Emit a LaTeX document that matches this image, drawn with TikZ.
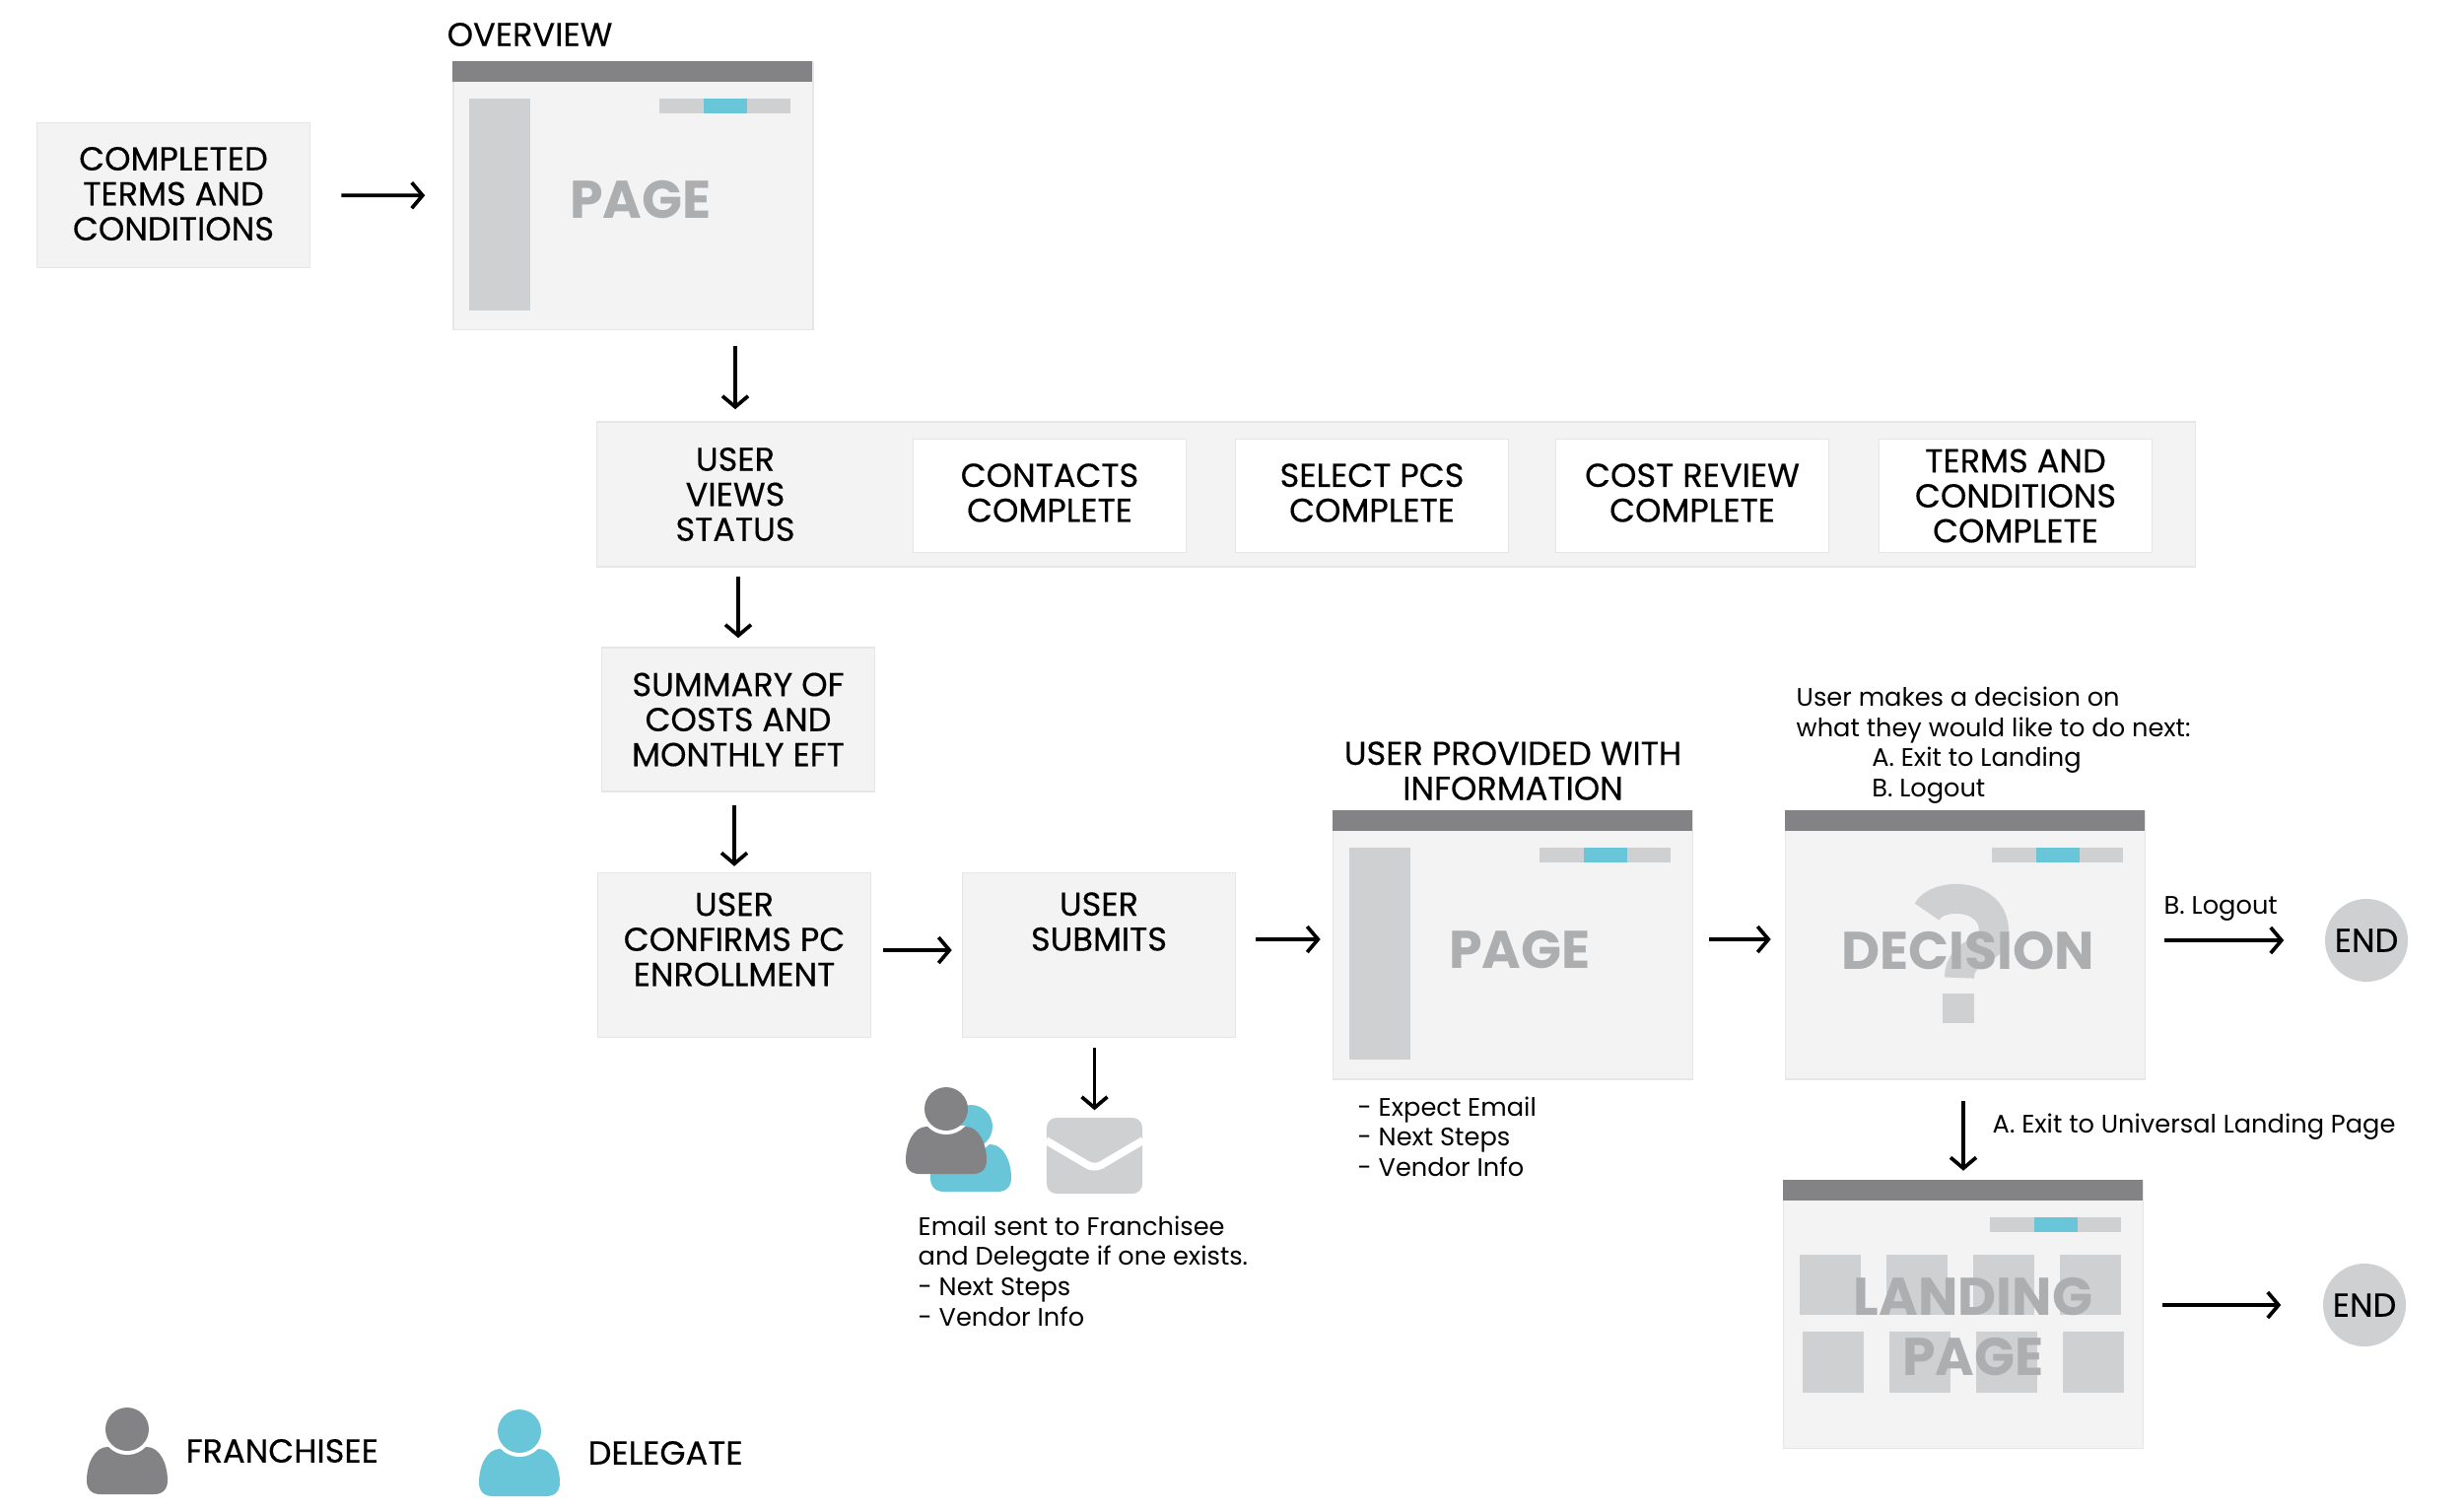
\documentclass[tikz,border=0pt]{standalone}
\usepackage{fontspec}
\setmainfont{Poppins}
\newfontfamily\capsfont[FakeBold=0.35]{Poppins}
\usetikzlibrary{arrows.meta}
\usetikzlibrary{calc}
\definecolor{barcol}{HTML}{838386}
\definecolor{boxcol}{HTML}{F3F3F4}
\definecolor{edgecol}{HTML}{E6E6E7}
\definecolor{blockcol}{HTML}{CFD0D2}
\definecolor{bluecol}{HTML}{68C6D8}
\definecolor{wordcol}{HTML}{ADAEB0}
\tikzset{
  stepbox/.style={fill=boxcol, draw=edgecol, line width=0.4pt, minimum width=2.77cm, inner sep=0pt, align=center, font=\capsfont\fontsize{9.55}{10.1}\selectfont},
  twolines/.style={text depth=1.8pt},
  pagebox/.style={fill=boxcol, draw=edgecol, line width=0.4pt, minimum width=3.65cm, minimum height=2.72cm, inner sep=0pt},
  endnode/.style={circle, fill=blockcol, minimum size=0.84cm, inner sep=0pt, font=\capsfont\fontsize{9.55}{10.1}\selectfont},
  flow/.style={line width=1.05pt, -{Straight Barb[length=0.11cm, width=0.26cm]}},
  caps/.style={inner sep=0pt, align=center, font=\capsfont\fontsize{9.55}{10.1}\selectfont},
  note/.style={inner sep=0pt, align=left, anchor=west, font=\fontsize{7.3}{8.7}\selectfont},
  bigword/.style={inner sep=0pt, align=center, text=wordcol, font=\fontsize{15.3}{17.6}\bfseries\selectfont}
}
% window with title bar and pager
\newcommand{\pagewin}[3]{
  \node[pagebox] (#1) at (#2, #3) {};
  \fill[barcol] (#1.north west) rectangle ++(365, 21);
  \fill[blockcol] ($(#1.north west)+(210, 38)$) rectangle ++(133, 15);
  \fill[bluecol] ($(#1.north west)+(255, 38)$) rectangle ++(44, 15);
}
\newcommand{\pageside}[1]{
  \fill[blockcol] ($(#1.north west)+(17, 38)$) rectangle ++(62, 215);
}
% person, given by the centre of the head
\newcommand{\person}[3]{
  \fill[#3] (#1-41, #2+52) .. controls (#1-41, #2+35) and (#1-33, #2+18) .. (#1-20, #2+18)
    -- (#1+20, #2+18) .. controls (#1+33, #2+18) and (#1+41, #2+35) .. (#1+41, #2+52)
    .. controls (#1+41, #2+61) and (#1+36, #2+66) .. (#1+27, #2+66)
    -- (#1-27, #2+66) .. controls (#1-36, #2+66) and (#1-41, #2+61) .. (#1-41, #2+52) -- cycle;
  \begin{scope}
    \clip (#1-41, #2+17) rectangle (#1+41, #2+40);
    \fill[white] (#1, #2) circle (26);
  \end{scope}
  \fill[#3] (#1, #2) circle (22);
}
\begin{document}
\begin{tikzpicture}[x=0.01cm, y=-0.01cm]
  \useasboundingbox (0, 0) rectangle (2500, 1532);

  %Top row
  \node[stepbox, minimum height=1.47cm, text depth=0.9pt] (terms) at (176, 198) {COMPLETED\\TERMS AND\\CONDITIONS};
  \node[caps, anchor=west] (overviewtitle) at (453, 35) {OVERVIEW};
  \pagewin{overview}{642.5}{198.5}
  \pageside{overview}
  \node[bigword] (overviewword) at (650, 203) {PAGE};

  %Status band
  \node[stepbox, minimum width=16.21cm, minimum height=1.47cm] (band) at (1416.5, 501.5) {};
  \node[caps, minimum height=1.47cm] (userviews) at (746, 501.5) {USER\\VIEWS\\STATUS};
  \node[stepbox, twolines, fill=white, minimum height=1.15cm] (contacts) at (1065, 503) {CONTACTS\\COMPLETE};
  \node[stepbox, twolines, fill=white, minimum height=1.15cm] (selectpcs) at (1392, 503) {SELECT PCS\\COMPLETE};
  \node[stepbox, twolines, fill=white, minimum height=1.15cm] (costreview) at (1717, 503) {COST REVIEW\\COMPLETE};
  \node[stepbox, fill=white, minimum height=1.15cm] (termsdone) at (2045, 503) {TERMS AND\\CONDITIONS\\COMPLETE};

  %Left column
  \node[stepbox, minimum height=1.46cm] (summary) at (749, 730) {SUMMARY OF\\COSTS AND\\MONTHLY EFT};
  \node[stepbox, minimum height=1.67cm] (confirms) at (745, 969) {};
  \node[caps] (confirmstext) at (745, 953) {USER\\CONFIRMS PC\\ENROLLMENT};
  \node[stepbox, minimum height=1.67cm] (submits) at (1115, 969) {};
  \node[caps] (submitstext) at (1115, 935) {USER\\SUBMITS};

  %Email
  \node[fill=blockcol, rounded corners=0.1cm, minimum width=0.97cm, minimum height=0.77cm, inner sep=0pt] (envelope) at (1110.5, 1172.5) {};
  \draw[white, line width=2.2pt, rounded corners=0.08cm] (envelope.west |- 0, 1157) -- (1110.5, 1186) -- (envelope.east |- 0, 1157);
  \person{985}{1143}{bluecol}
  \person{960}{1125}{barcol}
  \node[note] (emailnote) at (931, 1289.5) {Email sent to Franchisee\\and Delegate if one exists.\\- Next Steps\\- Vendor Info};

  %Provided page
  \node[caps] (providedtitle) at (1535, 782) {USER PROVIDED WITH\\INFORMATION};
  \pagewin{provided}{1535}{959}
  \pageside{provided}
  \node[bigword] (providedword) at (1542, 964) {PAGE};
  \node[note] (providednote) at (1377, 1153) {- Expect Email\\- Next Steps\\- Vendor Info};

  %Decision page
  \node[note] (decisionnote) at (1822, 756) {User makes a decision on\\what they would like to do next:\\\hspace*{0.765cm}A. Exit to Landing\\\hspace*{0.765cm}B. Logout};
  \pagewin{decision}{1994}{959}
  \draw[blockcol, line width=0.3cm] (1955, 925) .. controls (1965, 905) and (2023, 905) .. (2023, 945) .. controls (2023, 968) and (1988, 962) .. (1988, 992);
  \fill[blockcol] (1971, 1008) rectangle (2003, 1038);
  \node[bigword] (decisionword) at (1997, 965) {DECISION};

  %Landing page
  \pagewin{landing}{1992}{1333.5}
  \foreach \gx in {1826, 1914, 2002, 2090}
    \fill[blockcol] (\gx, 1273) rectangle ++(62, 61);
  \foreach \gx in {1829, 1917, 2005, 2093}
    \fill[blockcol] (\gx, 1351) rectangle ++(62, 62);
  \node[bigword] (landingword) at (2002, 1346) {LANDING\\PAGE};

  %Ends
  \node[endnode] (endone) at (2401, 954) {END};
  \node[endnode] (endtwo) at (2399, 1324) {END};
  \node[note] (logoutnote) at (2195, 922) {B. Logout};
  \node[note] (exitnote) at (2021, 1143) {A. Exit to Universal Landing Page};

  %Legend
  \person{129}{1450}{barcol}
  \node[caps, anchor=west] (franchisee) at (188, 1472) {FRANCHISEE};
  \person{527}{1452}{bluecol}
  \node[caps, anchor=west] (delegate) at (596, 1474) {DELEGATE};

  %Arrows
  \draw[flow, shorten <=0.31cm, shorten >=0.28cm] (terms) -- (overview);
  \draw[flow, shorten <=0.16cm, shorten >=0.12cm] (overview.south -| userviews) -- (userviews.north);
  \draw[flow, shorten <=0.09cm, shorten >=0.09cm] (band.south -| summary) -- (summary.north);
  \draw[flow, shorten <=0.13cm, shorten >=0.06cm] (summary.south -| confirms) -- (confirms.north);
  \draw[flow, shorten <=0.12cm, shorten >=0.1cm] ([yshift=0.05cm]confirms.east) -- ([yshift=0.05cm]submits.west);
  \draw[flow, shorten <=0.2cm, shorten >=0.12cm] ([yshift=0.06cm]submits.east |- provided) -- ([yshift=0.06cm]provided.west);
  \draw[flow, shorten <=0.16cm, shorten >=0.14cm] ([yshift=0.06cm]provided.east) -- ([yshift=0.06cm]decision.west);
  \draw[flow, shorten <=0.1cm, shorten >=0.07cm] (submits.south -| envelope) -- (envelope.north);
  \draw[flow, shorten <=0.19cm, shorten >=0.41cm] (decision.east |- endone) -- (endone.west);
  \draw[flow, shorten <=0.21cm, shorten >=0.09cm] (decision.south -| landing) -- (landing.north);
  \draw[flow, shorten <=0.19cm, shorten >=0.42cm] (landing.east |- endtwo) -- (endtwo.west);
\end{tikzpicture}
\end{document}
